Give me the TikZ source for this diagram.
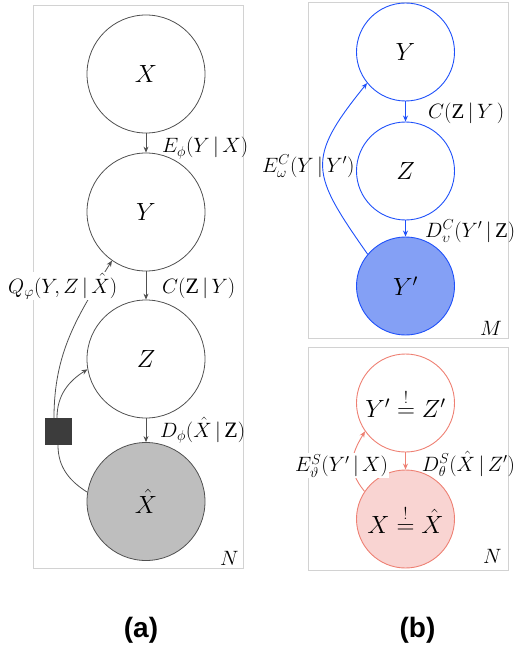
\documentclass[tikz,border=0pt]{standalone}
\usepackage{amsmath}
\usepackage{fontspec}
\setmainfont{Liberation Serif}
\newfontfamily\captionsans{Liberation Sans}
\usetikzlibrary{arrows.meta}
\definecolor{platec}{RGB}{210,210,210}
\definecolor{grayline}{RGB}{80,80,80}
\definecolor{xhatfill}{RGB}{190,190,190}
\definecolor{sqfill}{RGB}{60,60,60}
\definecolor{blueline}{RGB}{30,80,250}
\definecolor{bluefill}{RGB}{132,160,245}
\definecolor{redline}{RGB}{238,128,115}
\definecolor{redfill}{RGB}{249,212,210}
\newcommand{\gv}{\,|\,}
\begin{document}
\begin{tikzpicture}[x=1pt,y=1pt,
  plate/.style={draw=platec, line width=0.9pt},
  anode/.style={circle, draw=grayline, line width=0.8pt, minimum size=118pt, inner sep=0pt, font=\fontsize{31}{36}\selectfont},
  bnode/.style={circle, draw=blueline, line width=0.9pt, minimum size=98pt, inner sep=0pt, font=\fontsize{25}{30}\selectfont},
  rnode/.style={circle, draw=redline, line width=0.9pt, minimum size=98pt, inner sep=0pt, font=\fontsize{26}{30}\selectfont},
  alabel/.style={anchor=base west, inner sep=0pt, font=\fontsize{22}{26}\selectfont},
  blabel/.style={anchor=base west, inner sep=0pt, font=\fontsize{21}{25}\selectfont},
  aarr/.style={draw=grayline, line width=0.8pt, -{Stealth[length=6pt,width=5pt]}},
  barr/.style={draw=blueline, line width=0.9pt, -{Stealth[length=6pt,width=5pt]}},
  rarr/.style={draw=redline, line width=0.9pt, -{Stealth[length=6pt,width=5pt]}},
  captionstyle/.style={anchor=base, inner sep=0pt, font=\captionsans\bfseries\fontsize{28}{32}\selectfont}
]
\useasboundingbox (0,0) rectangle (517,-647);

% ---------- (a) ----------
\draw[plate] (33,-5) rectangle (243,-568);
\node[anode] (X) at (146,-74) {$X$};
\node[anode] (Y) at (146,-212) {$Y$};
\node[anode] (Z) at (146,-359) {$Z$};
\node[anode, fill=xhatfill] (Xh) at (146,-501.5) {$\hat{X}$};
\node[fill=sqfill, minimum size=27pt, inner sep=0pt] (F) at (58,-431.5) {};

\draw[aarr] (X) -- (Y);
\draw[aarr] (Y) -- (Z);
\draw[aarr] (Z) -- (Xh);
\draw[aarr] ([xshift=-4pt]F.north) to[out=90,in=238] (Y.235);
\draw[aarr] ([xshift=-1pt]F.north) to[out=90,in=212] (Z.190);
\draw[draw=grayline, line width=0.8pt] (F.south) to[out=-90,in=148] (Xh.171);

\node[alabel] (lE) at (162,-153) {$E_{\phi}(Y\gv X)$};
\node[alabel] (lC) at (162,-293) {$C(\mathrm{Z}\gv Y)$};
\node[alabel, fill=white, inner sep=1pt] (lQ) at (7,-293) {$Q_{\varphi}(Y,Z\gv \hat{X})$};
\node[alabel] (lD) at (160,-437) {$D_{\phi}(\hat{X}\gv \mathrm{Z})$};
\node[alabel] (lN) at (220,-565) {$N$};

% ---------- (b) top ----------
\draw[plate] (308,-2) rectangle (508,-338);
\node[bnode] (Yb) at (405.5,-52) {$Y$};
\node[bnode] (Zb) at (405.5,-171) {$Z$};
\node[bnode, fill=bluefill] (Ypb) at (405.5,-286) {$Y'$};
\draw[barr] (Yb) -- (Zb);
\draw[barr] (Zb) -- (Ypb);
\draw[barr] (Ypb.140) to[out=125,in=231,looseness=1.47] (Yb.219);
\node[blabel] (lCb) at (428,-119) {$C(\mathrm{Z}\gv Y\,)$};
\node[blabel] (lDb) at (425,-237) {$D^{C}_{\upsilon}(Y'\gv \mathrm{Z})$};
\node[blabel] (lEb) at (262,-172) {$E^{C}_{\omega}(Y\gv Y')$};
\node[blabel] (lM) at (480,-335) {$M$};

% ---------- (b) bottom ----------
\draw[plate] (308,-347) rectangle (508,-570);
\node[rnode] (YZ) at (405.5,-403) {$Y'\stackrel{!}{=}Z'$};
\node[rnode, fill=redfill] (XX) at (405.5,-519) {$X\stackrel{!}{=}\hat{X}$};
\draw[rarr] (YZ) -- (XX);
\draw[rarr] (XX.146) to[out=129,in=239,looseness=1.2] (YZ.215);
\node[blabel] (lDs) at (421.7,-471) {$D^{S}_{\theta}(\hat{X}\gv Z')$};
\node[blabel, fill=white, inner sep=1pt] (lEs) at (294,-471.7) {$E^{S}_{\vartheta}(Y'\gv X)$};
\node[blabel] (lN2) at (483,-563) {$N$};

% ---------- captions ----------
\node[captionstyle] (capa) at (141,-637) {(a)};
\node[captionstyle] (capb) at (417.5,-637) {(b)};
\end{tikzpicture}
\end{document}
